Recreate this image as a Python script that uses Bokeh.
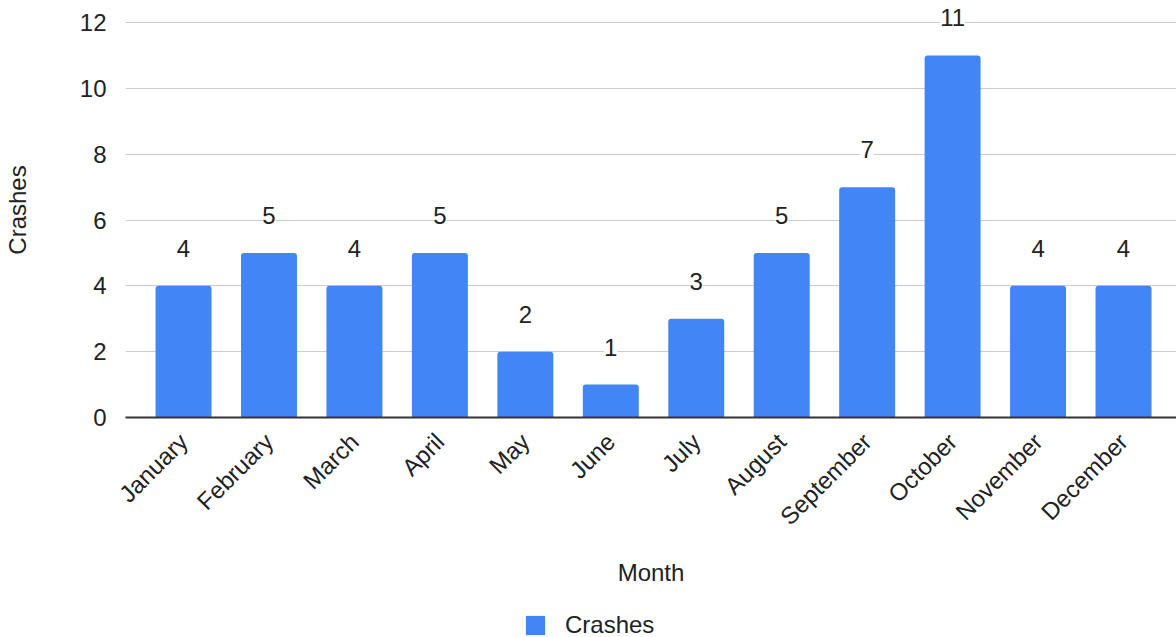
import math
from bokeh.plotting import figure
from bokeh.layouts import column
from bokeh.models import (ColumnDataSource, Range1d, FixedTicker, LabelSet,
                          Legend, LegendItem)
from bokeh.core.properties import value
from bokeh.embed import file_html
from bokeh.resources import INLINE

# Monthly crash counts
months = ["January", "February", "March", "April", "May", "June", "July",
          "August", "September", "October", "November", "December"]
crashes = [4, 5, 4, 5, 2, 1, 3, 5, 7, 11, 4, 4]
y_ticks = [0, 2, 4, 6, 8, 10, 12]
series_name = "Crashes"

FONT = "Liberation Sans"
TEXT = "#222222"
BLUE = "#4285F4"
BAR_WIDTH = 0.655

source = ColumnDataSource(dict(
    x=list(range(len(months))),
    month=months,
    crashes=crashes,
    label=[str(v) for v in crashes],
))

p = figure(width=1176, height=600, output_backend="svg", toolbar_location=None,
           x_range=Range1d(-0.679, 11.62), y_range=Range1d(0, 12.61),
           min_border_left=125, min_border_right=0, min_border_top=2,
           min_border_bottom=183, outline_line_color=None)
p.background_fill_color = "white"
p.border_fill_color = "white"

bars = p.vbar(x="x", top="crashes", width=BAR_WIDTH, source=source,
              fill_color=BLUE, line_color=None, border_radius=(3, 3, 0, 0))

# Value labels above bars, with a white box that interrupts the gridlines
labels = LabelSet(x="x", y="crashes", text="label", source=source,
                  y_offset=29, text_align="center", text_baseline="alphabetic",
                  text_font=value(FONT), text_font_size="24px", text_color=TEXT,
                  background_fill_color="white")
p.add_layout(labels)

# Y axis
yaxis = p.yaxis[0]
yaxis.ticker = FixedTicker(ticks=y_ticks)
yaxis.axis_line_color = None
yaxis.major_tick_line_color = None
yaxis.minor_tick_line_color = None
yaxis.major_label_standoff = 13
yaxis.major_label_text_font = FONT
yaxis.major_label_text_font_size = "24px"
yaxis.major_label_text_color = TEXT
yaxis.axis_label = series_name
yaxis.axis_label_standoff = 46
yaxis.axis_label_text_font = FONT
yaxis.axis_label_text_font_size = "24px"
yaxis.axis_label_text_font_style = "normal"
yaxis.axis_label_text_color = TEXT

# X axis
xaxis = p.xaxis[0]
xaxis.ticker = FixedTicker(ticks=list(range(len(months))))
xaxis.major_label_overrides = {i: m for i, m in enumerate(months)}
xaxis.major_label_orientation = math.pi / 4
xaxis.axis_line_color = "#333333"
xaxis.axis_line_width = 2
xaxis.major_tick_line_color = None
xaxis.minor_tick_line_color = None
xaxis.major_label_standoff = 14
xaxis.major_label_text_font = FONT
xaxis.major_label_text_font_size = "24px"
xaxis.major_label_text_color = TEXT
xaxis.axis_label = "Month"
xaxis.axis_label_standoff = 16
xaxis.axis_label_text_font = FONT
xaxis.axis_label_text_font_size = "24px"
xaxis.axis_label_text_font_style = "normal"
xaxis.axis_label_text_color = TEXT

p.xgrid.grid_line_color = None
p.ygrid.ticker = FixedTicker(ticks=y_ticks)
p.ygrid.grid_line_color = "#cccccc"
p.ygrid.grid_line_width = 1

# Legend strip under the chart; its renderer shares the bar data but the
# strip's x range keeps those bars out of view, so only the key is shown
strip = figure(width=1176, height=37, output_backend="svg", toolbar_location=None,
               x_range=Range1d(-100, -99), y_range=Range1d(0, 1),
               x_axis_type=None, y_axis_type=None, outline_line_color=None,
               min_border_left=0, min_border_right=0, min_border_top=0,
               min_border_bottom=0)
strip.xgrid.grid_line_color = None
strip.ygrid.grid_line_color = None
swatch = strip.vbar(x="x", top="crashes", width=BAR_WIDTH, source=source,
                    fill_color=BLUE, line_color=None, border_radius=2)
legend = Legend(items=[LegendItem(label=series_name, renderers=[swatch])],
                location=(398, -2), orientation="horizontal",
                glyph_width=24, glyph_height=24, label_standoff=18,
                padding=0, margin=0, border_line_color=None,
                background_fill_alpha=0, label_text_font=FONT,
                label_text_font_size="24px", label_text_color=TEXT)
strip.add_layout(legend)

open("out.html", "w").write(file_html(column(p, strip, spacing=0), INLINE))
